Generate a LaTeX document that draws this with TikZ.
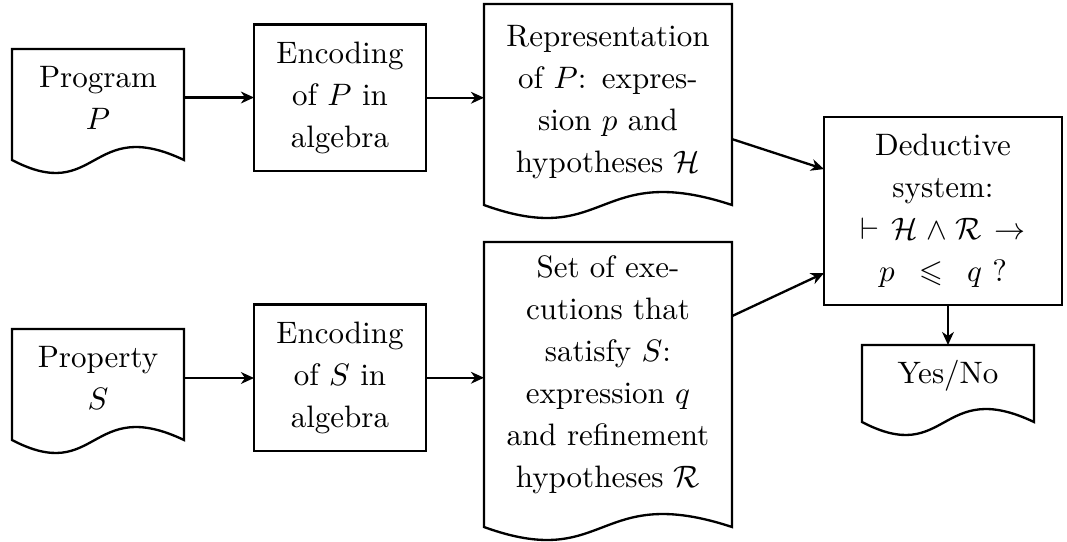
\documentclass[tikz,border=0pt]{standalone}
\usepackage{amssymb}
\usetikzlibrary{arrows.meta,calc}

% one drawing unit
\newcommand{\pu}{0.3225pt}

% document symbol: straight top and sides, wavy bottom edge
\newcommand{\docframe}[1]{%
  \draw[outline] (#1.south west) -- (#1.north west) -- (#1.north east) -- (#1.south east)
    .. controls ($(#1.south west)!0.45!(#1.south east)+(0,-45)$)
    and ($(#1.south west)!0.5!(#1.south east)+(0,45)$) .. (#1.south west) -- cycle;}

\tikzset{
  outline/.style={line width=0.75pt, line join=miter},
  frame/.style={inner sep=0pt, outer sep=0pt},
  card/.style={frame, draw, line width=0.75pt, align=center,
    font=\fontsize{10}{13.5}\selectfont},
  caption/.style={align=center, text width=70pt, inner sep=0pt,
    font=\fontsize{10}{13.5}\selectfont},
  link/.style={line width=0.75pt,
    -{Stealth[length=4.2pt,width=3.8pt,inset=1.3pt]}},
}

\begin{document}
\begin{tikzpicture}[x=\pu, y=-\pu]
\useasboundingbox (0,0) rectangle (1067,541);

% document outlines
\node[frame, minimum width=172*\pu, minimum height=111*\pu] (prog) at (98,104.5) {};
\node[frame, minimum width=172*\pu, minimum height=111*\pu] (prop) at (98,384.5) {};
\node[frame, minimum width=248*\pu, minimum height=201*\pu] (rep) at (608,104.5) {};
\node[frame, minimum width=248*\pu, minimum height=285*\pu] (set) at (608,384.5) {};
\node[frame, minimum width=172*\pu, minimum height=77*\pu] (yes) at (948,383.5) {};
\docframe{prog}
\docframe{prop}
\docframe{rep}
\docframe{set}
\docframe{yes}

% texts of the documents
\node[caption] (progt) at (98,97.5) {Program\\$P$};
\node[caption] (propt) at (98,378) {Property\\$S$};
\node[caption] (rept) at (608,102) {Representation\\of $P$: expres-\\sion $p$ and\\hypotheses $\mathcal{H}$};
\node[caption] (sett) at (608,374.8) {Set of exe-\\cutions that\\satisfy $S$:\\expression $q$\\and refinement\\hypotheses $\mathcal{R}$};
\node[caption] (yest) at (948,376) {Yes/No};

% process boxes
\node[card, text width=50pt, minimum width=172*\pu, minimum height=146.5*\pu]
  (encp) at (340,97.75) {Encoding\\of $P$ in\\algebra};
\node[card, text width=50pt, minimum width=172*\pu, minimum height=146.5*\pu]
  (encs) at (340,377.75) {Encoding\\of $S$ in\\algebra};
\node[card, text width=70pt, minimum width=238*\pu, minimum height=188*\pu]
  (ded) at (943,211) {Deductive\\system:\\$\vdash\mathcal{H}\wedge\mathcal{R}\rightarrow$\\$p\:\leqslant\:q$ ?};

% connectors
\draw[link] (progt -| prog.east) -- (progt -| encp.west);
\draw[link] (encp.east) -- (encp.east -| rep.west);
\draw[link] (propt -| prop.east) -- (propt -| encs.west);
\draw[link] (encs.east) -- (encs.east -| set.west);
\draw[link] ($(rep.north east)!0.672!(rep.south east)$) -- ($(ded.north west)!0.277!(ded.south west)$);
\draw[link] ($(set.north east)!0.26!(set.south east)$) -- ($(ded.north west)!0.83!(ded.south west)$);
\draw[link] (yes.north |- ded.south) -- (yes.north);
\end{tikzpicture}
\end{document}
